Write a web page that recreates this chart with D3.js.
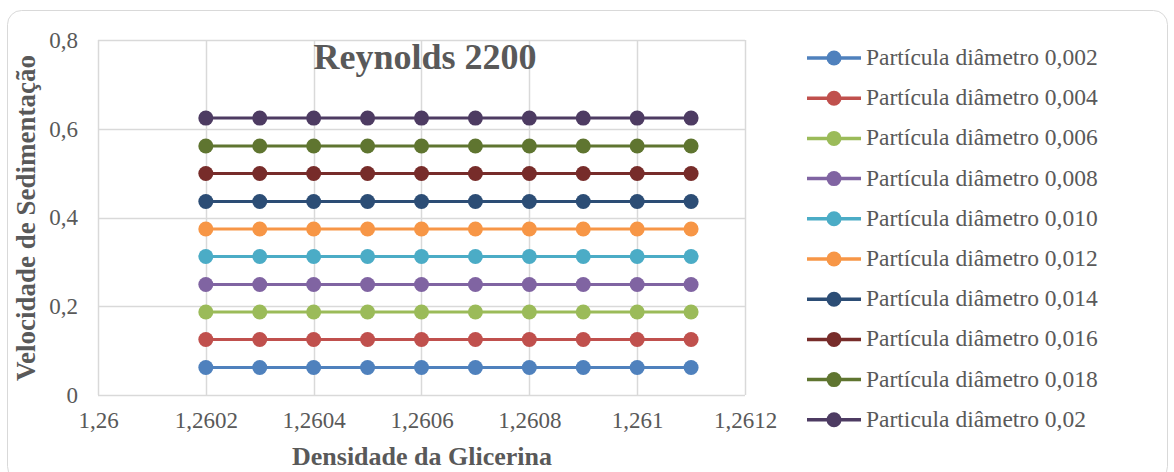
<!DOCTYPE html>
<html><head><meta charset="utf-8">
<script src="https://cdn.jsdelivr.net/npm/d3@7"></script>
<style>body{margin:0;background:#fff;}</style></head><body>
<svg id="c" width="1174" height="472"></svg>
<script>
const xValues = [1.2602,1.2603,1.2604,1.2605,1.2606,1.2607,1.2608,1.2609,1.2610,1.2611];
const seriesNames = ["Partícula diâmetro 0,002","Partícula diâmetro 0,004","Partícula diâmetro 0,006","Partícula diâmetro 0,008","Partícula diâmetro 0,010","Partícula diâmetro 0,012","Partícula diâmetro 0,014","Partícula diâmetro 0,016","Partícula diâmetro 0,018","Particula diâmetro 0,02"];
const seriesLevels = [0.062,0.125,0.187,0.249,0.312,0.374,0.436,0.499,0.561,0.624];
const seriesColors = ["#4F81BD","#C0504D","#9BBB59","#8064A2","#4BACC6","#F79646","#2C4D75","#772C2A","#5F7530","#4D3B62"];
const xTicks = [1.26,1.2602,1.2604,1.2606,1.2608,1.261,1.2612];
const yTicks = [0,0.2,0.4,0.6,0.8];
const title = "Reynolds 2200";
const xTitle = "Densidade da Glicerina";
const yTitle = "Velocidade de Sedimentação";

const FONT = '"Liberation Serif", "Times New Roman", serif';
const TXT = "#595959";
const svg = d3.select("#c");
svg.append("rect").attr("x",7.5).attr("y",10.5).attr("width",1160).attr("height",470)
  .attr("rx",14).attr("fill","#fff").attr("stroke","#d9d9d9").attr("stroke-width",1);

const L=98,R=745,T=40,B=395;
const x = d3.scaleLinear().domain([1.26,1.2612]).range([L,R]);
const y = d3.scaleLinear().domain([0,0.8]).range([B,T]);
const fmt = d => String(+d.toFixed(4)).replace(".",",");

const g = svg.append("g");
g.selectAll(".vg").data(xTicks).join("line").attr("x1",d=>Math.round(x(d))+0.5).attr("x2",d=>Math.round(x(d))+0.5)
  .attr("y1",T).attr("y2",B).attr("stroke","#d9d9d9").attr("stroke-width",1.5);
g.selectAll(".hg").data(yTicks).join("line").attr("y1",d=>Math.round(y(d))+0.5).attr("y2",d=>Math.round(y(d))+0.5)
  .attr("x1",L).attr("x2",R).attr("stroke","#d9d9d9").attr("stroke-width",1.5);

const xa = svg.append("g").attr("transform",`translate(0,${B})`)
  .call(d3.axisBottom(x).tickValues(xTicks).tickFormat(fmt).tickSize(0).tickPadding(17));
xa.select(".domain").remove();
xa.selectAll("text").style("font-size","23px").style("font-family",FONT).style("fill",TXT);
const ya = svg.append("g").attr("transform",`translate(${L},0)`)
  .call(d3.axisLeft(y).tickValues(yTicks).tickFormat(fmt).tickSize(0).tickPadding(20));
ya.select(".domain").remove();
ya.selectAll("text").style("font-size","23px").style("font-family",FONT).style("fill",TXT);

const line = d3.line().x(d=>x(d[0])).y(d=>y(d[1]));
seriesLevels.forEach((v,i)=>{
  const pts = xValues.map(xv=>[xv,v]);
  const sg = svg.append("g");
  sg.append("path").attr("d",line(pts)).attr("fill","none").attr("stroke",seriesColors[i]).attr("stroke-width",3);
  sg.selectAll("circle").data(pts).join("circle").attr("cx",d=>x(d[0])).attr("cy",d=>y(d[1])).attr("r",7.5).attr("fill",seriesColors[i]);
});

function txt(sel){return sel.style("font-family",FONT).style("fill",TXT);}
txt(svg.append("text")).attr("x",425).attr("y",69).attr("text-anchor","middle").style("font-size","36px").style("font-weight","bold").text(title);
txt(svg.append("text")).attr("x",422).attr("y",465).attr("text-anchor","middle").style("font-size","26px").style("font-weight","bold").text(xTitle);
txt(svg.append("text")).attr("transform","translate(35,218) rotate(-90)").attr("text-anchor","middle").style("font-size","27px").style("font-weight","bold").text(yTitle);

const lg = svg.append("g");
seriesNames.forEach((n,i)=>{
  const cy = 58 + i*40.2;
  lg.append("line").attr("x1",807).attr("x2",861).attr("y1",cy).attr("y2",cy).attr("stroke",seriesColors[i]).attr("stroke-width",3.5);
  lg.append("circle").attr("cx",834).attr("cy",cy).attr("r",7.5).attr("fill",seriesColors[i]);
  txt(lg.append("text")).attr("x",866).attr("y",cy+7).style("font-size","23.5px").text(n);
});
</script></body></html>
